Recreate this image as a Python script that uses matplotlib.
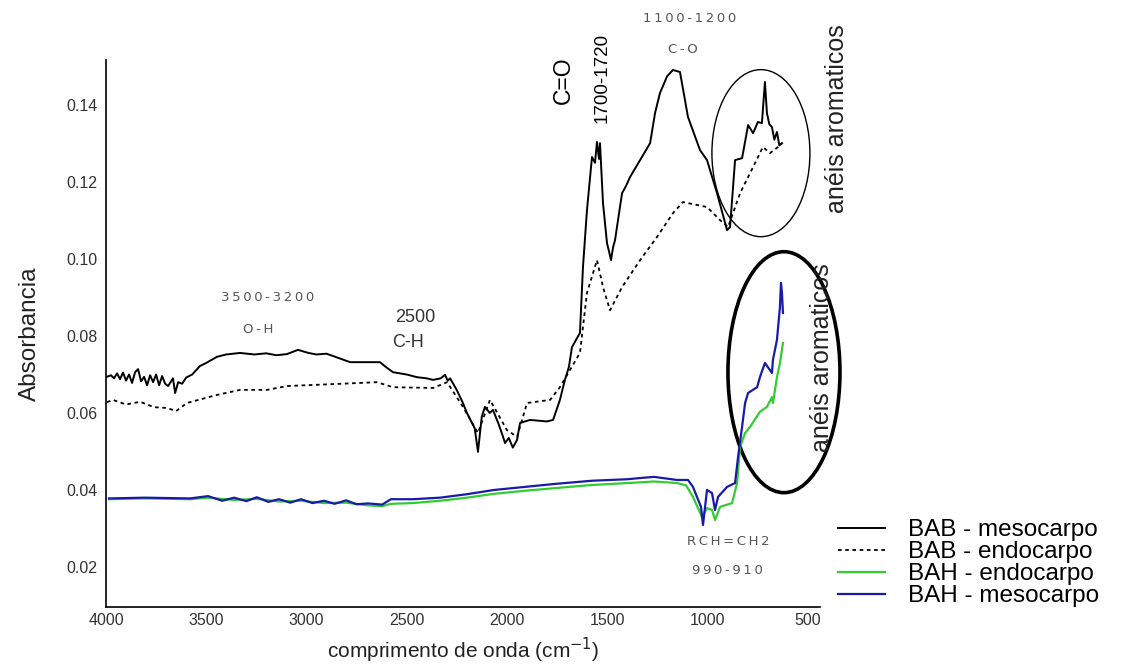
import matplotlib
matplotlib.use("Agg")
import matplotlib.pyplot as plt
from matplotlib.patches import Ellipse

plt.rcParams['font.family'] = ['Liberation Sans', 'DejaVu Sans']

# BAB - mesocarpo (linha cheia preta)
bab_meso_x = [3995, 3975, 3960, 3945, 3930, 3915, 3900, 3885, 3870, 3855, 3840, 3825,
              3810, 3795, 3780, 3765, 3750, 3735, 3720, 3705, 3690, 3666, 3655, 3640,
              3620, 3600, 3570, 3531, 3500, 3446, 3400, 3331, 3260, 3200, 3150, 3097,
              3042, 2990, 2950, 2900, 2867, 2782, 2633, 2600, 2568, 2500, 2448, 2400,
              2368, 2330, 2308, 2295, 2283, 2250, 2219, 2199, 2160, 2144, 2125, 2109,
              2085, 2069, 2040, 2020, 2009, 1990, 1970, 1949, 1934, 1884, 1800, 1769,
              1735, 1710, 1690, 1675, 1635, 1620, 1600, 1575, 1560, 1550, 1540, 1535,
              1520, 1500, 1490, 1480, 1470, 1460, 1425, 1405, 1385, 1335, 1285, 1260,
              1236, 1200, 1171, 1136, 1096, 1036, 1001, 951, 901, 886, 876, 861, 826,
              796, 771, 747, 727, 712, 702, 690, 677, 665, 652, 640, 627]
bab_meso_y = [0.0694, 0.0698, 0.0690, 0.0703, 0.0688, 0.0705, 0.0684, 0.0700, 0.0678,
              0.0706, 0.0714, 0.0682, 0.0694, 0.0672, 0.0698, 0.0680, 0.0700, 0.0672,
              0.0696, 0.0676, 0.0670, 0.0690, 0.0652, 0.0680, 0.0676, 0.0692, 0.0700,
              0.0722, 0.0730, 0.0746, 0.0752, 0.0756, 0.0752, 0.0755, 0.0750, 0.0753,
              0.0764, 0.0756, 0.0752, 0.0754, 0.0748, 0.0732, 0.0732, 0.0718, 0.0706,
              0.0700, 0.0693, 0.0690, 0.0686, 0.0690, 0.0699, 0.0684, 0.0690, 0.0660,
              0.0626, 0.0600, 0.0560, 0.0499, 0.0590, 0.0616, 0.0600, 0.0608, 0.0570,
              0.0540, 0.0522, 0.0535, 0.0510, 0.0530, 0.0574, 0.0582, 0.0578, 0.0582,
              0.0634, 0.0686, 0.0720, 0.0771, 0.0808, 0.0979, 0.1127, 0.1265, 0.1250,
              0.1304, 0.1260, 0.1301, 0.1145, 0.1041, 0.1020, 0.0997, 0.1030, 0.1049,
              0.1171, 0.1190, 0.1213, 0.1257, 0.1301, 0.1380, 0.1431, 0.1475, 0.1491,
              0.1486, 0.1369, 0.1283, 0.1257, 0.1171, 0.1075, 0.1083, 0.1153, 0.1257,
              0.1262, 0.1348, 0.1327, 0.1356, 0.1353, 0.1460, 0.1379, 0.1350, 0.1343,
              0.1310, 0.1330, 0.1295, 0.1301]

# BAB - endocarpo (pontilhada)
bab_endo_x = [3995, 3965, 3900, 3830, 3760, 3696, 3650, 3596, 3446, 3331, 3197, 3097,
              2867, 2648, 2568, 2368, 2298, 2219, 2144, 2084, 2000, 1949, 1899, 1784,
              1735, 1635, 1600, 1550, 1520, 1485, 1425, 1335, 1251, 1171, 1121, 1001,
              936, 896, 836, 771, 722, 687, 647, 627]
bab_endo_y = [0.0628, 0.0634, 0.0622, 0.0629, 0.0615, 0.0613, 0.0605, 0.0626, 0.0647,
              0.0660, 0.0660, 0.0670, 0.0675, 0.0680, 0.0667, 0.0665, 0.0680, 0.0616,
              0.0548, 0.0634, 0.0556, 0.0538, 0.0626, 0.0634, 0.0667, 0.0756, 0.0912,
              0.0997, 0.0927, 0.0867, 0.0927, 0.0997, 0.1057, 0.1119, 0.1148, 0.1135,
              0.1101, 0.1083, 0.1171, 0.1239, 0.1291, 0.1275, 0.1291, 0.1301]

# BAH - mesocarpo (azul)
bah_meso_x = [3985, 3805, 3581, 3491, 3420, 3361, 3300, 3247, 3190, 3137, 3080, 3027,
              2970, 2912, 2860, 2802, 2750, 2692, 2622, 2578, 2468, 2333, 2199, 2064,
              1909, 1754, 1575, 1395, 1335, 1265, 1151, 1096, 1071, 1031, 1021, 1001,
              976, 961, 946, 901, 861, 846, 826, 811, 796, 751, 737, 712, 677, 672,
              652, 637, 632, 627, 622]
bah_meso_y = [0.0378, 0.0380, 0.0378, 0.0384, 0.0372, 0.0380, 0.0371, 0.0381, 0.0369,
              0.0376, 0.0367, 0.0376, 0.0366, 0.0372, 0.0364, 0.0373, 0.0363, 0.0365,
              0.0362, 0.0376, 0.0376, 0.0380, 0.0389, 0.0400, 0.0408, 0.0416, 0.0424,
              0.0428, 0.0431, 0.0434, 0.0426, 0.0426, 0.0408, 0.0356, 0.0309, 0.0400,
              0.0392, 0.0348, 0.0382, 0.0408, 0.0418, 0.0486, 0.0564, 0.0626, 0.0652,
              0.0667, 0.0693, 0.0730, 0.0704, 0.0738, 0.0790, 0.0875, 0.0938, 0.0912,
              0.0860]

# BAH - endocarpo (verde)
bah_endo_x = [3985, 3805, 3581, 3491, 3361, 3247, 3137, 3027, 2912, 2802, 2692, 2622,
              2578, 2468, 2333, 2199, 2064, 1909, 1754, 1575, 1395, 1265, 1151, 1106,
              1101, 1071, 1026, 1001, 976, 961, 936, 876, 851, 836, 811, 786, 737,
              702, 677, 672, 652, 637, 622]
bah_endo_y = [0.0376, 0.0378, 0.0376, 0.0380, 0.0374, 0.0377, 0.0370, 0.0372, 0.0366,
              0.0367, 0.0360, 0.0358, 0.0364, 0.0366, 0.0372, 0.0380, 0.0390, 0.0398,
              0.0405, 0.0413, 0.0418, 0.0422, 0.0418, 0.0412, 0.0408, 0.0382, 0.0330,
              0.0353, 0.0348, 0.0322, 0.0356, 0.0366, 0.0418, 0.0512, 0.0548, 0.0564,
              0.0603, 0.0616, 0.0641, 0.0626, 0.0693, 0.0730, 0.0782]


def spaced(s):
    # texto cinza com espacamento entre letras
    return '\u2009'.join(s)


fig = plt.figure(figsize=(11.35, 6.69), dpi=100)
ax = fig.add_axes([0.0934, 0.0927, 0.6291, 0.8176])

ax.plot(bab_meso_x, bab_meso_y, color='black', lw=1.4, label='BAB - mesocarpo')
ax.plot(bab_endo_x, bab_endo_y, color='black', lw=1.3, ls=(0, (2, 2)), label='BAB - endocarpo')
ax.plot(bah_endo_x, bah_endo_y, color='#33cc33', lw=1.6, label='BAH - endocarpo')
ax.plot(bah_meso_x, bah_meso_y, color='#1a1aa8', lw=1.6, label='BAH - mesocarpo')

ax.set_xlim(4000, 437)
ax.set_ylim(0.0096, 0.1517)
ax.set_xticks([4000, 3500, 3000, 2500, 2000, 1500, 1000, 500])
ax.set_yticks([0.02, 0.04, 0.06, 0.08, 0.10, 0.12, 0.14])
ax.set_yticklabels(['0.02', '0.04', '0.06', '0.08', '0.10', '0.12', '0.14'])
ax.tick_params(length=0, labelsize=11.5, labelcolor='#333333', pad=6)
ax.tick_params(axis='x', pad=4)
for s in ['top', 'right']:
    ax.spines[s].set_visible(False)
ax.spines['left'].set_linewidth(1.2)
ax.spines['bottom'].set_linewidth(1.2)

ax.set_ylabel('Absorbancia', fontsize=17.5, color='#222222', labelpad=18)
ax.set_xlabel('comprimento de onda (cm$^{-1}$)', fontsize=15, color='#222222', labelpad=6)

gray = '#555555'
gfont = ['DejaVu Sans']
ax.text(3192, 0.0901, spaced('3500-3200'), fontsize=9.5, color=gray, ha='center', va='center', family=gfont)
ax.text(3241, 0.0818, spaced('O-H'), fontsize=9.5, color=gray, ha='center', va='center', family=gfont)
ax.text(2458, 0.0847, '2500', fontsize=13, color='#333333', ha='center', va='center')
ax.text(2493, 0.0782, 'C-H', fontsize=13, color='#333333', ha='center', va='center')
ax.text(1720, 0.1465, 'C=O', fontsize=16.5, rotation=90, ha='center', va='center', clip_on=False)
ax.text(1525, 0.1470, '1700-1720', fontsize=13.5, rotation=90, ha='center', va='center', clip_on=False)
ax.text(1086, 0.1626, spaced('1100-1200'), fontsize=9.5, color=gray, ha='center', va='center',
        clip_on=False, family=gfont)
ax.text(1121, 0.1545, spaced('C-O'), fontsize=9.5, color=gray, ha='center', va='center',
        clip_on=False, family=gfont)
ax.text(352, 0.1366, 'anéis aromaticos', fontsize=18, rotation=90, ha='center', va='center',
        color='#222222', clip_on=False)
ax.text(427, 0.0743, 'anéis aromaticos', fontsize=18, rotation=90, ha='center', va='center',
        color='#222222', clip_on=False)
ax.text(896, 0.0265, spaced('RCH=CH2'), fontsize=9.5, color=gray, ha='center', va='center', family=gfont)
ax.text(901, 0.0192, spaced('990-910'), fontsize=9.5, color=gray, ha='center', va='center', family=gfont)

ax.add_patch(Ellipse((732, 0.1275), 489, 0.0434, fill=False, lw=1.0, ec='black', clip_on=False))
ax.add_patch(Ellipse((617, 0.0706), 559, 0.0626, fill=False, lw=2.6, ec='black', clip_on=False))

leg = ax.legend(loc='upper left', bbox_to_anchor=(0.738, 0.2242), bbox_transform=fig.transFigure,
                frameon=False, fontsize=17.5, handlelength=1.95, handletextpad=0.95,
                labelspacing=0.0, borderpad=0, borderaxespad=0)

fig.savefig('out.png', dpi=100)
